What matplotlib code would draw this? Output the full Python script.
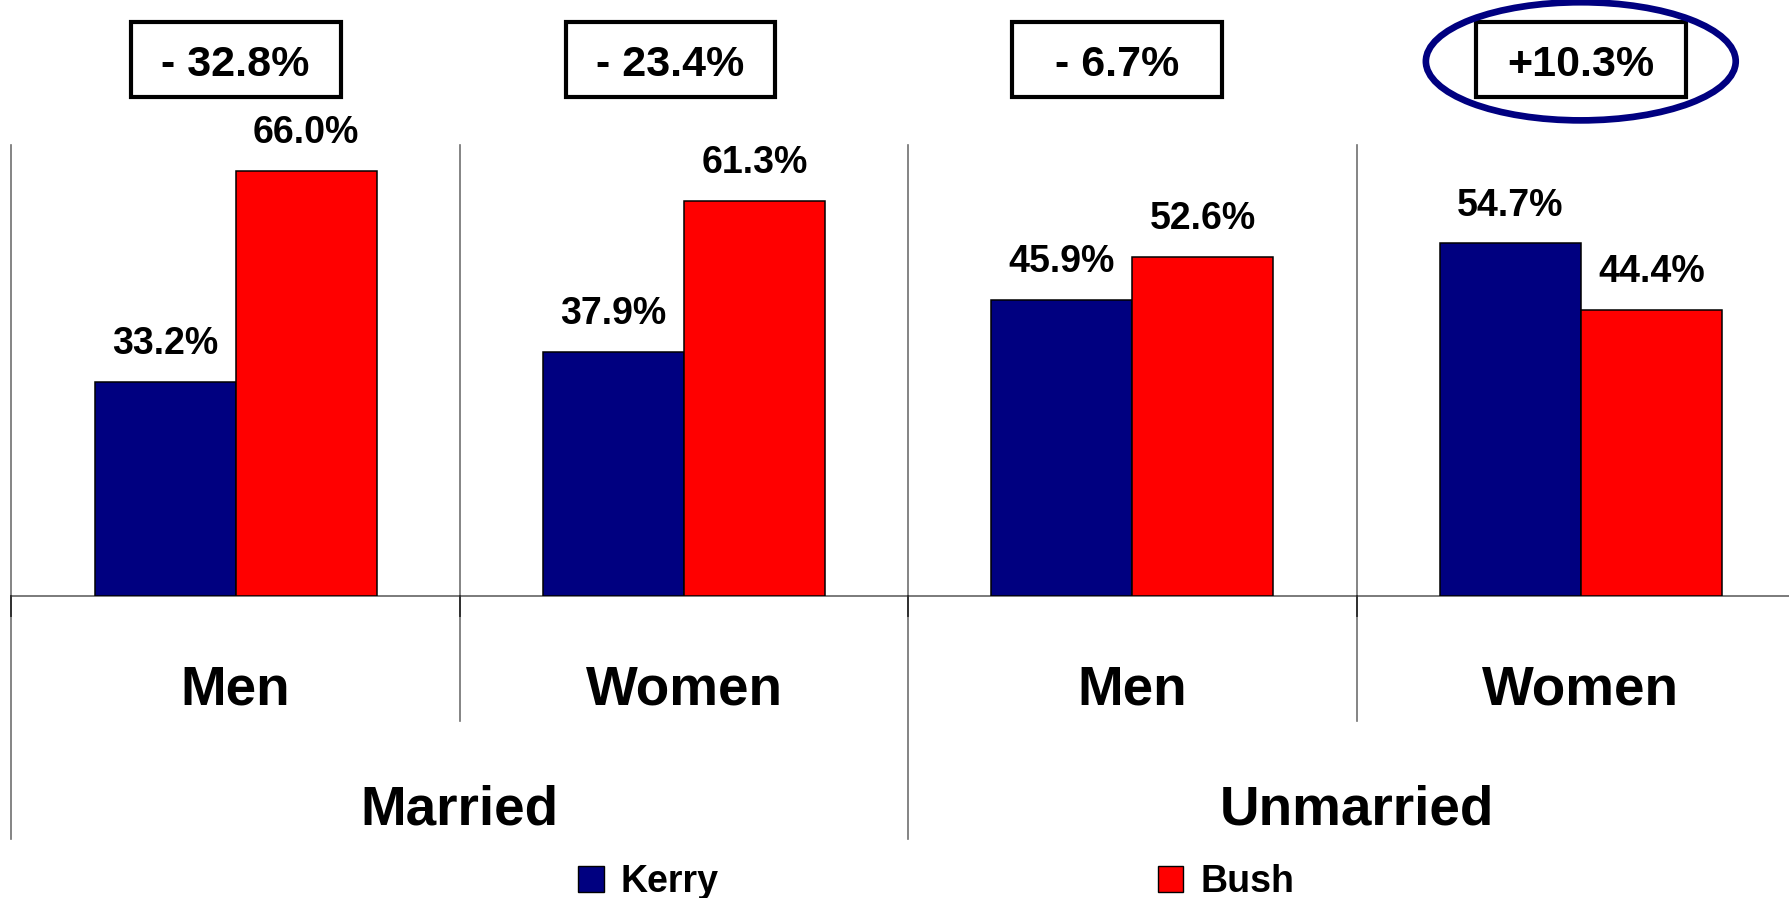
import matplotlib
matplotlib.use('Agg')
import matplotlib.pyplot as plt
from matplotlib.patches import Rectangle, Ellipse, Patch
import numpy as np

plt.rcParams['font.family'] = ['Liberation Sans', 'DejaVu Sans']
plt.rcParams['font.weight'] = 'bold'

groups = ['Men', 'Women', 'Men', 'Women']
status = ['Married', 'Unmarried']
kerry = [33.2, 37.9, 45.9, 54.7]
bush = [66.0, 61.3, 52.6, 44.4]
gaps = ['- 32.8%', '- 23.4%', '- 6.7%', '+10.3%']

KERRY = '#000080'
BUSH = '#ff0000'
LINE = '#707070'

fig = plt.figure(figsize=(17.89, 8.98), dpi=100)
ax = fig.add_axes([11.4 / 1789, 1 - 595.6 / 898, 4 * 448.4 / 1789, 450.6 / 898])
ax.set_xlim(-0.5, 3.5)
ax.set_ylim(0, 70)
ax.axis('off')

x = np.arange(len(groups))
w = 0.3145
b1 = ax.bar(x - w / 2, kerry, w, color=KERRY, edgecolor='black', linewidth=1.1, zorder=3)
b2 = ax.bar(x + w / 2, bush, w, color=BUSH, edgecolor='black', linewidth=1.1, zorder=3)

for bars, vals in [(b1, kerry), (b2, bush)]:
    for r, v in zip(bars, vals):
        ax.annotate('%.1f%%' % v, (r.get_x() + r.get_width() / 2, v),
                    xytext=(0, 20), textcoords='offset points',
                    ha='center', va='baseline', fontsize=27, fontweight='bold')

# baseline and separators
ax.axhline(0, color=LINE, lw=1.3, zorder=2, clip_on=False)
for sx, low in [(-0.5, -37.8), (0.5, -19.5), (1.5, -37.8), (2.5, -19.5), (3.5, -37.8)]:
    ax.plot([sx, sx], [70, low], color=LINE, lw=1.2, clip_on=False, zorder=1)
    ax.plot([sx, sx], [0, -3.2], color='#303030', lw=1.4, clip_on=False, zorder=2)

# category labels
for xi, g in zip(x, groups):
    ax.text(xi, -16.85, g, ha='center', va='baseline', fontsize=39.5,
            fontweight='bold', clip_on=False)
for xi, s in zip([0.5, 2.5], status):
    ax.text(xi, -35.5, s, ha='center', va='baseline', fontsize=39.5,
            fontweight='bold', clip_on=False)

# gap boxes
box_x = [0.0, 0.97, 1.965, 3.0]
bw, bh = 0.468, 11.66
for bx, txt in zip(box_x, gaps):
    ax.add_patch(Rectangle((bx - bw / 2, 77.47), bw, bh, facecolor='white',
                           edgecolor='black', lw=3, clip_on=False, zorder=4))
    ax.text(bx, 80.78, txt, ha='center', va='baseline', fontsize=31,
            fontweight='bold', clip_on=False, zorder=5)

ax.add_patch(Ellipse((3.0, 83.0), 0.691, 18.35, fill=False, edgecolor=KERRY,
                     lw=4.8, clip_on=False, zorder=6))

handles = [Patch(facecolor=KERRY, edgecolor='black', lw=1),
           Patch(facecolor=BUSH, edgecolor='black', lw=1)]
fig.legend(handles, ['Kerry', 'Bush'], loc='center left',
           bbox_to_anchor=(578 / 1789, 1 - 882 / 898), ncol=2,
           frameon=False, handlelength=0.69, handleheight=0.69,
           handletextpad=0.45, columnspacing=11.7, borderpad=0, borderaxespad=0,
           prop={'weight': 'bold', 'size': 27})

fig.savefig('out.png', dpi=100)
